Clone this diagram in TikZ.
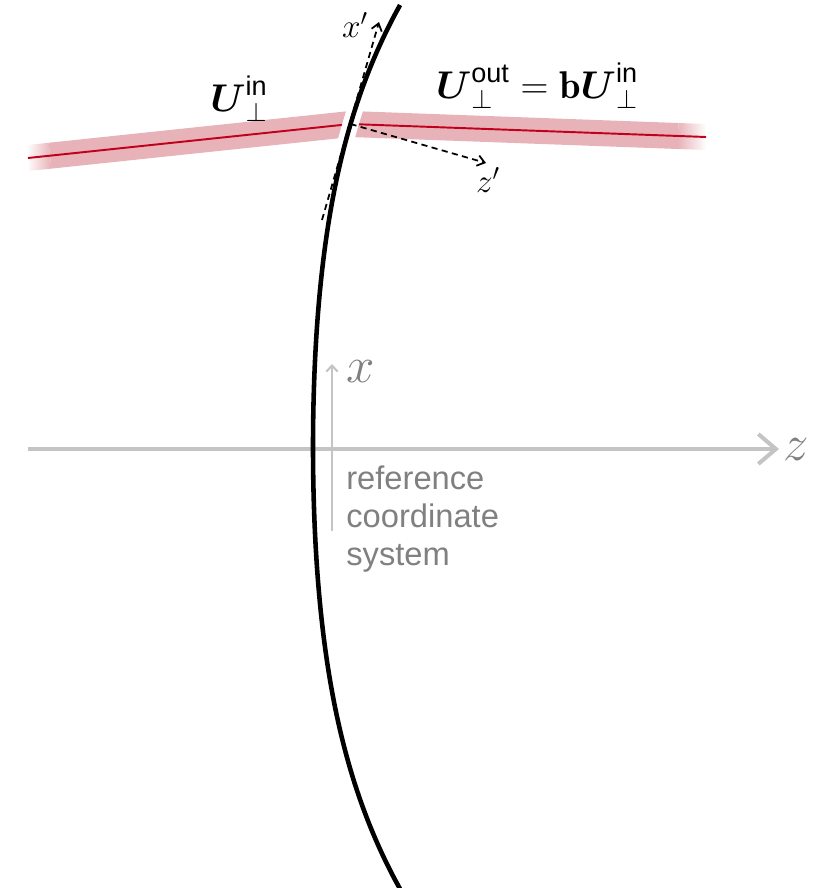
\RequirePackage{fix-cm}
\documentclass[tikz,border=0pt]{standalone}
\usepackage{amsmath}
\usepackage{fontspec}
\setsansfont{Liberation Sans}
\usetikzlibrary{arrows.meta,calc}
\definecolor{beampink}{RGB}{231,178,184}
\definecolor{beamred}{RGB}{192,0,28}
\definecolor{axisgray}{RGB}{196,196,196}
\definecolor{labelgray}{RGB}{128,128,128}

\begin{document}
\begin{tikzpicture}[x=0.02cm,y=-0.02cm,
    band/.style={beampink,line width=0.52cm},
    ray/.style={beamred,line width=1.1pt},
    surface/.style={line width=2.6pt},
    dasharrow/.style={dash pattern=on 3.5pt off 2.5pt,line width=1pt,
      -{Straight Barb[length=4pt,width=6pt]}},
    mathlabel/.style={font=\fontsize{22}{27}\selectfont},
    primelabel/.style={font=\fontsize{19}{23}\selectfont},
    axislabel/.style={text=labelgray,font=\fontsize{29}{34}\selectfont}]
  \useasboundingbox (0,0) rectangle (818,888);

  % reference axes
  \coordinate (zA) at (28,449);
  \coordinate (zB) at (779,449);
  \coordinate (xaA) at (332,531);
  \coordinate (xaB) at (332,364);
  \draw[axisgray,line width=2.3pt,-{Straight Barb[length=10pt,width=17pt]}]
    (zA) -- (zB);
  \draw[axisgray,line width=1.2pt,-{Straight Barb[length=3.5pt,width=6.5pt]}]
    (xaA) -- (xaB);
  \node[axislabel,anchor=base] (zlab) at (796,460) {$z$};
  \node[axislabel,anchor=base] (xlab) at (361,382) {$x$};
  \node[text=labelgray,font=\sffamily\fontsize{18.6}{21.6}\selectfont,
        anchor=base west,align=left,inner sep=0pt] (reftext) at (346,565)
    {reference\\coordinate\\system};

  % beam
  \coordinate (inA) at (28,158);
  \coordinate (inF) at (50,155.7);
  \coordinate (hit) at (350.5,124);
  \coordinate (outF) at (678,136);
  \coordinate (outB) at (706,137);
  \shade[left color=white,right color=beampink]
    ($(inA)!0.26cm!90:(hit)$) -- ($(inA)!0.26cm!-90:(hit)$)
    -- ($(inF)!0.26cm!-90:(hit)$) -- ($(inF)!0.26cm!90:(hit)$) -- cycle;
  \shade[left color=beampink,right color=white]
    ($(outF)!0.26cm!90:(hit)$) -- ($(outF)!0.26cm!-90:(hit)$)
    -- ($(outB)!0.26cm!-90:(hit)$) -- ($(outB)!0.26cm!90:(hit)$) -- cycle;
  \draw[band] (inF) -- (hit);
  \draw[band] (hit) -- (outF);
  \draw[ray] (inA) -- (hit) -- (outB);

  % curved surface
  \draw[white,line width=0.32cm] plot[domain=-3.65:-2.8,samples=20,smooth]
    ({313+2.62*\x*\x+0.094*\x*\x*\x*\x},{447+100*\x});
  \draw[surface] plot[domain=-4.42:4.42,samples=90,smooth]
    ({313+2.62*\x*\x+0.094*\x*\x*\x*\x},{447+100*\x});

  % local axes
  \coordinate (xpA) at (322,220);
  \coordinate (xpB) at (379,22);
  \coordinate (zpB) at (486,163);
  \draw[dasharrow] (xpA) -- (xpB);
  \draw[dasharrow] (hit) -- (zpB);
  \node[primelabel,anchor=base] (xplab) at (355,38) {$x'$};
  \node[primelabel,anchor=base] (zplab) at (488,193) {$z'$};

  \node[mathlabel,anchor=base] (inlab) at (239,112)
    {$\boldsymbol{U}_\perp^{\mathsf{in}}$};
  \node[mathlabel,anchor=base] (outlab) at (537,99)
    {$\boldsymbol{U}_\perp^{\mathsf{out}}=\mathbf{b}\boldsymbol{U}_\perp^{\mathsf{in}}$};
\end{tikzpicture}
\end{document}
